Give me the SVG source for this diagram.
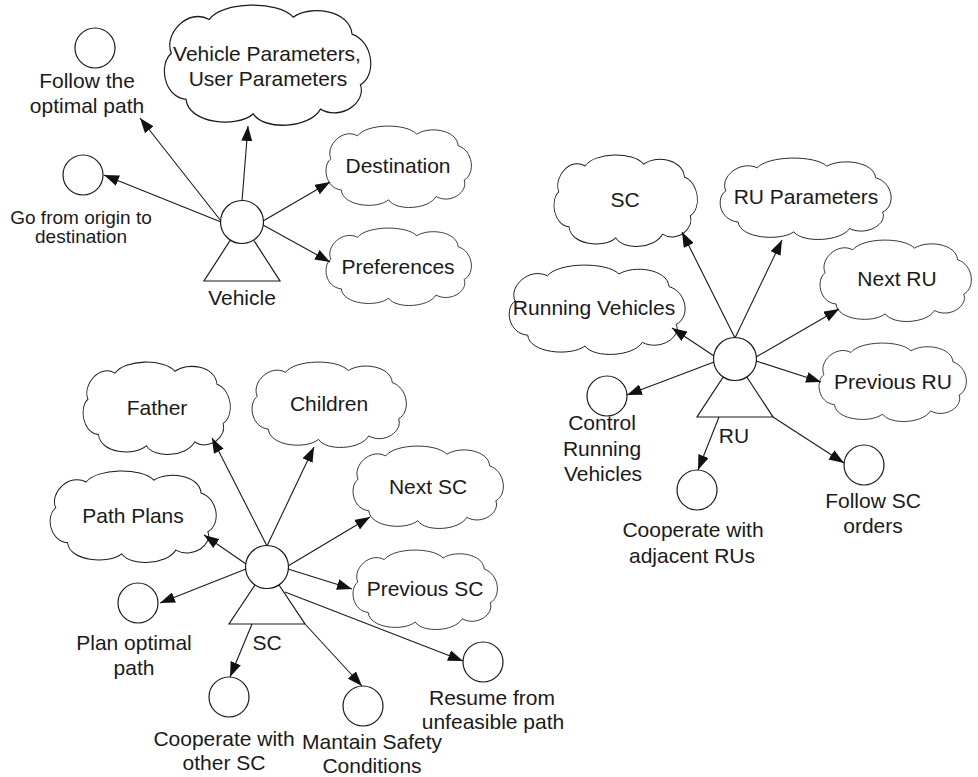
<svg xmlns="http://www.w3.org/2000/svg" width="978" height="777" viewBox="0 0 978 777">
  <style>
    .bg { fill: #ffffff; }
    .cloud { fill: #ffffff; stroke: #1a1a1a; stroke-width: 1.1; vector-effect: non-scaling-stroke; }
    .goal { fill: #ffffff; stroke: #1a1a1a; stroke-width: 1.2; }
    .actor { fill: #ffffff; stroke: #1a1a1a; stroke-width: 1.2; }
    .lbl { font-family: "Liberation Sans", Arial, Helvetica, sans-serif; font-size: 21px; fill: #1a1a1a; text-anchor: middle; }
    .sm { font-size: 19px; }
    .edge { fill: none; stroke: #1a1a1a; stroke-width: 1.1; marker-end: url(#ah); }
  </style>
  <defs>
    <!-- generic cloud outline in a 200 x 100 box: eight lobes joined at cusps -->
    <path id="cloudShape" d="M 8,40 C 0,24 24,2 44,12 C 56,-3 110,-4 124,10 C 140,0 178,4 180,24 C 200,30 204,58 188,66 C 194,80 170,96 150,86 C 140,102 96,104 86,90 C 70,102 24,98 22,78 C 0,76 -4,48 8,40 Z"/>
    <marker id="ah" markerUnits="userSpaceOnUse" viewBox="0 0 15 11" markerWidth="15" markerHeight="11" refX="15" refY="5.5" orient="auto">
      <path d="M0,0 L15,5.5 L0,11 Z" fill="#111111"/>
    </marker>
  </defs>

  <rect class="bg" x="0" y="0" width="978" height="777"/>

  <!-- ===== Vehicle agent ===== -->
  <g id="vehicle">
    <polygon class="actor" points="242,222 204,281 280,281"/>
    <circle class="actor" cx="242" cy="222" r="21.5"/>
    <text class="lbl" x="242" y="305">Vehicle</text>
  </g>
  <g id="goal-follow-path">
    <circle class="goal" cx="95" cy="48" r="20"/>
    <text class="lbl" x="87" y="88">Follow the</text>
    <text class="lbl" x="87" y="113">optimal path</text>
  </g>
  <g id="goal-origin-destination">
    <circle class="goal" cx="83" cy="175" r="20"/>
    <text class="lbl sm" x="81" y="224">Go from origin to</text>
    <text class="lbl sm" x="81" y="243">destination</text>
  </g>
  <g id="res-vehicle-params">
    <use href="#cloudShape" class="cloud" transform="translate(163,5) scale(1.05,1.21)"/>
    <text class="lbl" x="267" y="61">Vehicle Parameters,</text>
    <text class="lbl" x="268" y="86">User Parameters</text>
  </g>
  <g id="res-destination">
    <use href="#cloudShape" class="cloud" transform="translate(325,126) scale(0.74,0.82)"/>
    <text class="lbl" x="398" y="173">Destination</text>
  </g>
  <g id="res-preferences">
    <use href="#cloudShape" class="cloud" transform="translate(325,228) scale(0.74,0.78)"/>
    <text class="lbl" x="398" y="274">Preferences</text>
  </g>

  <!-- ===== Road Unit agent ===== -->
  <g id="ru">
    <polygon class="actor" points="735,359 697,417 773,417"/>
    <circle class="actor" cx="735" cy="359" r="21.5"/>
    <text class="lbl" x="734" y="443">RU</text>
  </g>
  <g id="res-sc">
    <use href="#cloudShape" class="cloud" transform="translate(553,155) scale(0.73,0.92)"/>
    <text class="lbl" x="625" y="207">SC</text>
  </g>
  <g id="res-ru-params">
    <use href="#cloudShape" class="cloud" transform="translate(719,158) scale(0.87,0.82)"/>
    <text class="lbl" x="806" y="204">RU Parameters</text>
  </g>
  <g id="res-next-ru">
    <use href="#cloudShape" class="cloud" transform="translate(819,240) scale(0.77,0.82)"/>
    <text class="lbl" x="897" y="286">Next RU</text>
  </g>
  <g id="res-running-vehicles">
    <use href="#cloudShape" class="cloud" transform="translate(508,265) scale(0.895,0.9)"/>
    <text class="lbl" x="594" y="315">Running Vehicles</text>
  </g>
  <g id="res-previous-ru">
    <use href="#cloudShape" class="cloud" transform="translate(818,343) scale(0.75,0.79)"/>
    <text class="lbl" x="893" y="389">Previous RU</text>
  </g>
  <g id="goal-control-vehicles">
    <circle class="goal" cx="607" cy="396" r="20"/>
    <text class="lbl" x="602" y="430">Control</text>
    <text class="lbl" x="602" y="456">Running</text>
    <text class="lbl" x="603" y="481">Vehicles</text>
  </g>
  <g id="goal-cooperate-rus">
    <circle class="goal" cx="697" cy="490" r="20"/>
    <text class="lbl" x="693" y="537">Cooperate with</text>
    <text class="lbl" x="692" y="563">adjacent RUs</text>
  </g>
  <g id="goal-follow-sc">
    <circle class="goal" cx="864" cy="465" r="20"/>
    <text class="lbl" x="873" y="508">Follow SC</text>
    <text class="lbl" x="873" y="533">orders</text>
  </g>

  <!-- ===== Section Controller agent ===== -->
  <g id="sc">
    <polygon class="actor" points="267,567 229,624 305,624"/>
    <circle class="actor" cx="267" cy="567" r="21.5"/>
    <text class="lbl" x="267" y="650">SC</text>
  </g>
  <g id="res-father">
    <use href="#cloudShape" class="cloud" transform="translate(82,362) scale(0.75,0.93)"/>
    <text class="lbl" x="157" y="415">Father</text>
  </g>
  <g id="res-children">
    <use href="#cloudShape" class="cloud" transform="translate(251,362) scale(0.785,0.86)"/>
    <text class="lbl" x="329" y="411">Children</text>
  </g>
  <g id="res-next-sc">
    <use href="#cloudShape" class="cloud" transform="translate(352,446) scale(0.765,0.83)"/>
    <text class="lbl" x="428" y="494">Next SC</text>
  </g>
  <g id="res-path-plans">
    <use href="#cloudShape" class="cloud" transform="translate(49,471) scale(0.845,0.92)"/>
    <text class="lbl" x="133" y="523">Path Plans</text>
  </g>
  <g id="res-previous-sc">
    <use href="#cloudShape" class="cloud" transform="translate(352,550) scale(0.735,0.8)"/>
    <text class="lbl" x="425" y="596">Previous SC</text>
  </g>
  <g id="goal-plan-path">
    <circle class="goal" cx="138" cy="603" r="20"/>
    <text class="lbl" x="134" y="650">Plan optimal</text>
    <text class="lbl" x="134" y="675">path</text>
  </g>
  <g id="goal-cooperate-sc">
    <circle class="goal" cx="229" cy="697" r="20"/>
    <text class="lbl" x="224" y="746">Cooperate with</text>
    <text class="lbl" x="224" y="770">other SC</text>
  </g>
  <g id="goal-safety">
    <circle class="goal" cx="363" cy="706" r="20"/>
    <text class="lbl" x="372" y="749">Mantain Safety</text>
    <text class="lbl" x="372" y="773">Conditions</text>
  </g>
  <g id="goal-resume">
    <circle class="goal" cx="483" cy="662" r="20"/>
    <text class="lbl" x="492" y="705">Resume from</text>
    <text class="lbl" x="493" y="729">unfeasible path</text>
  </g>

  <!-- ===== Connectors ===== -->
  <g id="connectors">
    <!-- Vehicle -->
    <line class="edge" x1="221" y1="221" x2="140" y2="118"/>
    <line class="edge" x1="242" y1="201" x2="248" y2="126"/>
    <line class="edge" x1="221" y1="222" x2="104" y2="175"/>
    <line class="edge" x1="263" y1="221" x2="330" y2="182"/>
    <line class="edge" x1="263" y1="225" x2="330" y2="262"/>
    <!-- RU -->
    <line class="edge" x1="735" y1="338" x2="682" y2="232"/>
    <line class="edge" x1="735" y1="338" x2="782" y2="240"/>
    <line class="edge" x1="756" y1="357" x2="839" y2="309"/>
    <line class="edge" x1="714" y1="356" x2="672" y2="328"/>
    <line class="edge" x1="756" y1="361" x2="821" y2="382"/>
    <line class="edge" x1="714" y1="362" x2="627" y2="395"/>
    <line class="edge" x1="719" y1="417" x2="698" y2="470"/>
    <line class="edge" x1="773" y1="417" x2="844" y2="463"/>
    <!-- SC -->
    <line class="edge" x1="267" y1="546" x2="212" y2="438"/>
    <line class="edge" x1="267" y1="546" x2="314" y2="447"/>
    <line class="edge" x1="288" y1="566" x2="370" y2="517"/>
    <line class="edge" x1="246" y1="564" x2="204" y2="535"/>
    <line class="edge" x1="288" y1="569" x2="352" y2="589"/>
    <line class="edge" x1="246" y1="569" x2="160" y2="603"/>
    <line class="edge" x1="252" y1="624" x2="230" y2="677"/>
    <line class="edge" x1="305" y1="624" x2="362" y2="686"/>
    <line class="edge" x1="285" y1="592" x2="463" y2="661"/>
  </g>
</svg>
